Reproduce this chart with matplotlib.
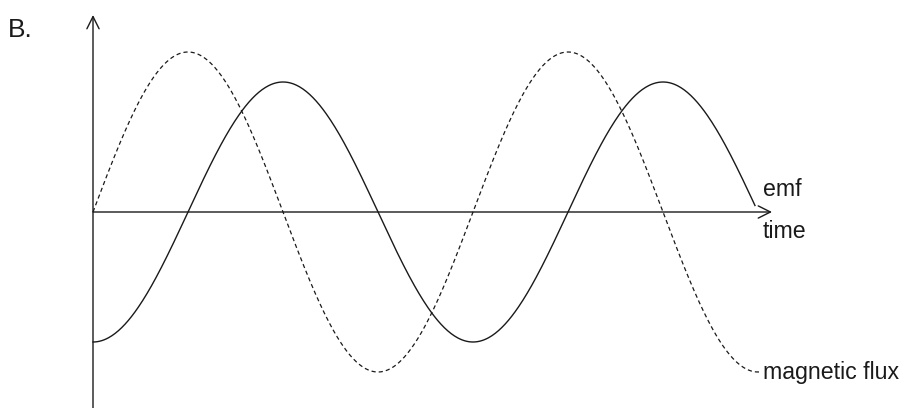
import numpy as np
import matplotlib.pyplot as plt
from matplotlib.patches import FancyArrowPatch

plt.rcParams['font.family'] = ['Liberation Sans', 'DejaVu Sans']
plt.rcParams['lines.scale_dashes'] = False

# readings from the picture (time in periods, flux peak = 1)
flux_amp = 1.0
emf_amp = 0.8125          # emf peak / flux peak
flux_end = 1.76           # where the dashed curve stops
emf_end = 1.742           # where the solid curve stops
labels = ['emf', 'time', 'magnetic flux']
panel = 'B.'

t_flux = np.linspace(0, flux_end, 600)
t_emf = np.linspace(0, emf_end, 600)
flux = flux_amp * np.sin(2 * np.pi * np.minimum(t_flux, 1.75))
emf = -emf_amp * np.cos(2 * np.pi * t_emf)

fig = plt.figure(figsize=(9.01, 4.08), dpi=100)
ax = fig.add_axes([0, 0, 1, 1])
ax.set_xlim(-93 / 380, (901 - 93) / 380)
ax.set_ylim(-(408 - 212) / 160, 212 / 160)
ax.axis('off')

ink = '#1a1a1a'
ax.plot(t_emf, emf, color=ink, lw=1.0)
ax.plot(t_flux, flux, color=ink, lw=0.9, linestyle=(0, (3.0, 2.2)))

# axes with open arrow heads
ax.add_patch(FancyArrowPatch((0, -1.3), (0, (212 - 15) / 160), arrowstyle='->',
                             mutation_scale=22, lw=1.0, color=ink,
                             shrinkA=0, shrinkB=0))
ax.add_patch(FancyArrowPatch((0, 0), ((772 - 93) / 380, 0), arrowstyle='->',
                             mutation_scale=22, lw=1.0, color=ink,
                             shrinkA=0, shrinkB=0))

fs = 16.7
ax.text(1.763, (212 - 190) / 160, labels[0], fontsize=fs, va='center', ha='left', color=ink)
ax.text(1.763, (212 - 232) / 160, labels[1], fontsize=fs, va='center', ha='left', color=ink)
ax.text(1.763, -1.0, labels[2], fontsize=fs, va='center', ha='left', color=ink)
ax.text((8 - 93) / 380, (212 - 30) / 160, panel, fontsize=19, va='center', ha='left', color=ink)

fig.savefig('out.png', dpi=100)
